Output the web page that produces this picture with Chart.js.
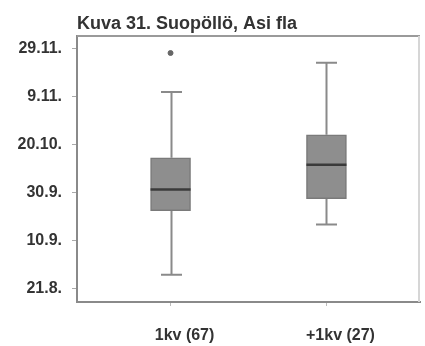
<!DOCTYPE html>
<html>
<head>
<meta charset="utf-8">
<script src="https://cdn.jsdelivr.net/npm/chart.js@4/dist/chart.umd.min.js"></script>
<style>
  html, body { margin: 0; padding: 0; background: #fff; }
  #wrap { width: 425px; height: 346px; }
</style>
</head>
<body>
<div id="wrap"><canvas id="c" width="425" height="346"></canvas></div>
<script>
// Values are days counted from 21.8. (21.8. = 0, 10.9. = 20, ...)
const categories    = ['1kv (67)', '+1kv (27)'];
const positions     = [1, 2];
const lowerWhisker  = [5.8, 26.7];
const q1            = [32.5, 37.5];
const median        = [41.3, 51.7];
const q3            = [54.6, 64.2];
const upperWhisker  = [82.0, 94.2];
const outliers      = [{ pos: 1, value: 98.3 }];
const tickValues    = [0, 20, 40, 60, 80, 100];
const tickLabels    = ['21.8.', '10.9.', '30.9.', '20.10.', '9.11.', '29.11.'];
const titleText     = 'Kuva 31. Suopöllö, Asi fla';

const FONT = '"Liberation Sans", Arial, sans-serif';
const TEXT = '#333333';

const boxData = positions.map((p, i) => ({ x: p, y: [q1[i], q3[i]] }));
const outlierData = outliers.map(o => ({ x: o.pos, y: o.value }));

const boxExtras = {
  id: 'boxExtras',
  beforeDatasetsDraw(chart) {
    const { ctx, scales: { x, y } } = chart;
    ctx.save();
    ctx.strokeStyle = '#8a8a8a';
    ctx.lineWidth = 2;
    positions.forEach((p, i) => {
      const cx = Math.round(x.getPixelForValue(p)) + 0.5;
      const yLo = y.getPixelForValue(lowerWhisker[i]);
      const yQ1 = y.getPixelForValue(q1[i]);
      const yQ3 = y.getPixelForValue(q3[i]);
      const yHi = y.getPixelForValue(upperWhisker[i]);
      ctx.beginPath();
      ctx.moveTo(cx, yQ3); ctx.lineTo(cx, yHi);
      ctx.moveTo(cx, yQ1); ctx.lineTo(cx, yLo);
      ctx.moveTo(cx - 10.5, yHi); ctx.lineTo(cx + 10.5, yHi);
      ctx.moveTo(cx - 10.5, yLo); ctx.lineTo(cx + 10.5, yLo);
      ctx.stroke();
    });
    ctx.restore();
  },
  afterDatasetsDraw(chart) {
    const { ctx, chartArea: a, scales: { x, y } } = chart;
    ctx.save();
    ctx.strokeStyle = '#3a3a3a';
    ctx.lineWidth = 2.5;
    positions.forEach((p, i) => {
      const cx = x.getPixelForValue(p);
      const ym = y.getPixelForValue(median[i]);
      ctx.beginPath();
      ctx.moveTo(cx - 20, ym); ctx.lineTo(cx + 20, ym);
      ctx.stroke();
    });
    // frame: top and right border
    ctx.lineWidth = 2;
    ctx.strokeStyle = '#9a9a9a';
    ctx.beginPath();
    ctx.moveTo(a.left, a.top); ctx.lineTo(a.right, a.top);
    ctx.stroke();
    ctx.strokeStyle = '#d6d6d6';
    ctx.beginPath();
    ctx.moveTo(a.right - 1, a.top); ctx.lineTo(a.right - 1, a.bottom);
    ctx.stroke();
    ctx.restore();
  }
};

new Chart(document.getElementById('c'), {
  type: 'bar',
  data: {
    datasets: [
      {
        type: 'bar',
        data: boxData,
        backgroundColor: '#8e8e8e',
        borderColor: '#7a7a7a',
        borderWidth: 1.5,
        borderSkipped: false,
        barThickness: 40,
        order: 2
      },
      {
        type: 'scatter',
        data: outlierData,
        pointStyle: 'circle',
        pointRadius: 2.5,
        backgroundColor: '#666666',
        borderColor: '#666666',
        order: 1
      }
    ]
  },
  options: {
    responsive: false,
    animation: false,
    layout: { padding: { right: 1 } },
    plugins: {
      legend: { display: false },
      tooltip: { enabled: false },
      title: {
        display: true,
        text: titleText,
        align: 'start',
        fullSize: false,
        color: TEXT,
        font: { family: FONT, size: 18, weight: 'bold' },
        padding: { top: 13, bottom: 1.4 }
      }
    },
    scales: {
      x: {
        type: 'linear',
        min: 0.4,
        max: 2.6,
        offset: false,
        bounds: 'ticks',
        afterDataLimits(scale) { scale.min = 0.4; scale.max = 2.6; },
        afterBuildTicks(scale) { scale.ticks = positions.map(v => ({ value: v })); },
        afterFit(scale) { scale.height = 44; },
        grid: { display: true, offset: false, drawOnChartArea: false, drawTicks: true, tickLength: 4, color: '#bbbbbb' },
        border: { display: true, color: '#8a8a8a', width: 2 },
        ticks: {
          color: TEXT,
          font: { family: FONT, size: 16, weight: 'bold' },
          padding: 20,
          labelOffset: 14,
          maxRotation: 0,
          autoSkip: false,
          callback(v) { const i = positions.indexOf(v); return i >= 0 ? categories[i] : ''; }
        }
      },
      y: {
        type: 'linear',
        min: -5.6,
        max: 105.4,
        afterBuildTicks(scale) { scale.ticks = tickValues.map(v => ({ value: v })); },
        afterFit(scale) { scale.width = 77; },
        grid: { display: true, drawOnChartArea: false, drawTicks: true, tickLength: 5, color: '#aaaaaa' },
        border: { display: true, color: '#8a8a8a', width: 2 },
        ticks: {
          color: TEXT,
          font: { family: FONT, size: 16, weight: 'bold' },
          padding: 10,
          autoSkip: false,
          callback(v) { const i = tickValues.indexOf(v); return i >= 0 ? tickLabels[i] : ''; }
        }
      }
    }
  },
  plugins: [boxExtras]
});
</script>
</body>
</html>
